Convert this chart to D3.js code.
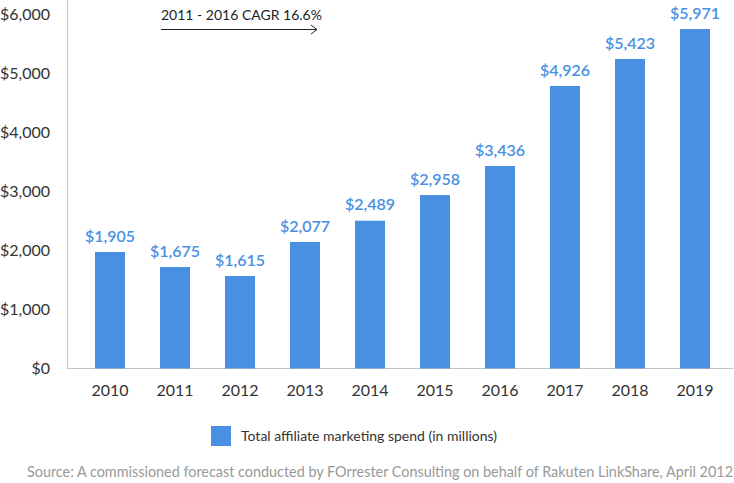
<!DOCTYPE html>
<html>
<head>
<meta charset="utf-8">
<script src="https://cdn.jsdelivr.net/npm/d3@7"></script>
<style>
  html, body { margin: 0; padding: 0; background: #fff; }
  svg { display: block; font-family: Lato, "Open Sans", sans-serif; }
</style>
</head>
<body>
<svg id="chart" width="734" height="483"></svg>
<script>
// Categories
const years = ["2010","2011","2012","2013","2014","2015","2016","2017","2018","2019"];
// Labelled values (in $ millions)
const labelValues = [1905, 1675, 1615, 2077, 2489, 2958, 3436, 4926, 5423, 5971];
// Bar heights as drawn in the reference
const barValues = [1975, 1720, 1568, 2144, 2505, 2940, 3432, 4788, 5246, 5754];
// Y-axis ticks
const yTicks = [0, 1000, 2000, 3000, 4000, 5000, 6000];
const seriesName = "Total affiliate marketing spend (in millions)";
const annotation = "2011 - 2016 CAGR 16.6%";
const sourceText = "Source: A commissioned forecast conducted by FOrrester Consulting on behalf of Rakuten LinkShare, April 2012";

const svg = d3.select("#chart");
const barColor = "#4a90e2";
const axisColor = "#c4c4c4";
const textColor = "#333333";

const y = d3.scaleLinear().domain([0, 6000]).range([368.5, 14.5]);
const x = d3.scaleBand().domain(years).range([77.5, 727.5])
  .paddingInner(35 / 65).paddingOuter(35 / 130);

// Axis lines
svg.append("line").attr("x1", 67.5).attr("x2", 67.5).attr("y1", 0).attr("y2", 369)
  .attr("stroke", axisColor).attr("stroke-width", 1);
svg.append("line").attr("x1", 67).attr("x2", 733).attr("y1", 368.5).attr("y2", 368.5)
  .attr("stroke", axisColor).attr("stroke-width", 1);

// Y tick labels
const fmt = d3.format("$,");
svg.append("g").selectAll("text").data(yTicks).join("text")
  .attr("x", 50).attr("y", d => y(d)).attr("dy", "0.35em")
  .attr("text-anchor", "end").attr("font-size", 16).attr("fill", textColor)
  .text(d => fmt(d));

// Bars
svg.append("g").selectAll("rect").data(years).join("rect")
  .attr("x", d => x(d)).attr("width", x.bandwidth())
  .attr("y", (d, i) => y(barValues[i]))
  .attr("height", (d, i) => y(0) - y(barValues[i]))
  .attr("fill", barColor);

// Value labels
svg.append("g").selectAll("text").data(years).join("text")
  .attr("x", d => x(d) + x.bandwidth() / 2)
  .attr("y", (d, i) => y(barValues[i]) - 16).attr("dy", "0.35em")
  .attr("text-anchor", "middle").attr("font-size", 16).attr("font-weight", 600)
  .attr("fill", barColor)
  .text((d, i) => fmt(labelValues[i]));

// X tick labels
svg.append("g").selectAll("text").data(years).join("text")
  .attr("x", d => x(d) + x.bandwidth() / 2).attr("y", 390).attr("dy", "0.35em")
  .attr("text-anchor", "middle").attr("font-size", 16).attr("fill", textColor)
  .text(d => d);

// Annotation
svg.append("text").attr("x", 161).attr("y", 15).attr("dy", "0.35em")
  .attr("font-size", 14).attr("fill", "#222").text(annotation);
svg.append("line").attr("x1", 161).attr("x2", 317).attr("y1", 29.5).attr("y2", 29.5)
  .attr("stroke", "#222").attr("stroke-width", 1);
svg.append("path").attr("d", "M311,25 L317,29.5 L311,34").attr("fill", "none")
  .attr("stroke", "#222").attr("stroke-width", 1);

// Legend
svg.append("rect").attr("x", 211).attr("y", 426).attr("width", 20).attr("height", 20)
  .attr("fill", barColor);
svg.append("text").attr("x", 241).attr("y", 436).attr("dy", "0.35em")
  .attr("font-size", 14).attr("fill", textColor).text(seriesName);

// Source
svg.append("text").attr("x", 733).attr("y", 472).attr("dy", "0.35em")
  .attr("text-anchor", "end").attr("font-size", 14.4).attr("fill", "#999")
  .text(sourceText);
</script>
</body>
</html>
